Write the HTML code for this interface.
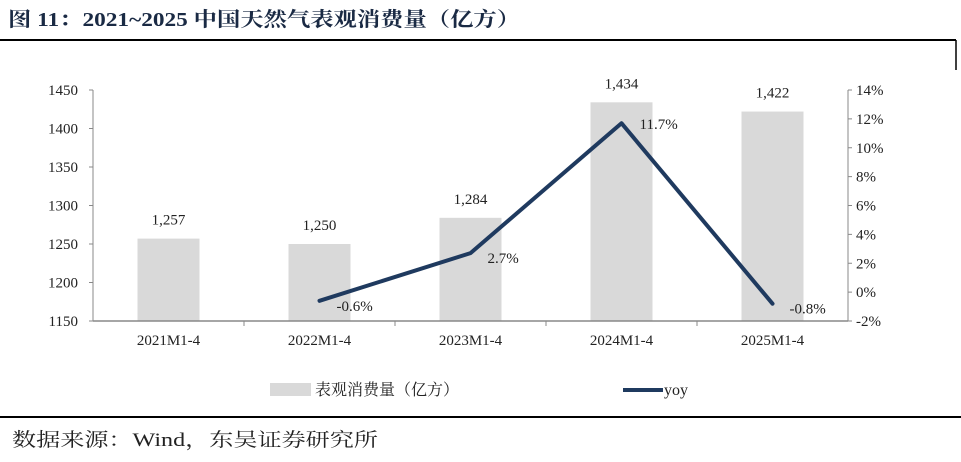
<!DOCTYPE html>
<html><head><meta charset="utf-8"><style>
body{margin:0;background:#fff;}
svg text{font-family:"Liberation Serif","Noto Serif CJK SC",serif;}
</style></head><body>
<svg width="961" height="457" viewBox="0 0 961 457" xmlns="http://www.w3.org/2000/svg">
<text x="8" y="26" font-size="20" font-weight="bold" fill="#1a2a44" textLength="512" lengthAdjust="spacingAndGlyphs">图 11：2021~2025 中国天然气表观消费量（亿方）</text>
<line x1="0" y1="40" x2="956" y2="40" stroke="#000" stroke-width="2"/>
<line x1="956" y1="40" x2="956" y2="70" stroke="#000" stroke-width="1.5"/>
<line x1="0" y1="417" x2="961" y2="417" stroke="#000" stroke-width="2"/>
<text x="12" y="446" font-size="19" fill="#222" textLength="366" lengthAdjust="spacingAndGlyphs">数据来源：Wind，东吴证券研究所</text>
<g id="plot"></g>
<g>
<rect x="270" y="383" width="41" height="13" fill="#d9d9d9"/>
<text x="315" y="395" font-size="16" fill="#222">表观消费量（亿方）</text>
<line x1="623" y1="390" x2="663" y2="390" stroke="#1f3a5f" stroke-width="4"/>
<text x="664" y="395" font-size="16" fill="#222">yoy</text>
</g>
</svg>
<script>
const categories=["2021M1-4","2022M1-4","2023M1-4","2024M1-4","2025M1-4"];
const volumes=[1257,1250,1284,1434,1422];
const yoy=[null,-0.6,2.7,11.7,-0.8];
const leftTicks=[1150,1200,1250,1300,1350,1400,1450];
const rightTicks=[-2,0,2,4,6,8,10,12,14];
const NS="http://www.w3.org/2000/svg";
const g=document.getElementById('plot');
const X0=93,X1=848,YT=90,YB=321;
const band=(X1-X0)/categories.length;
const xc=i=>X0+band*(i+0.5);
const yL=v=>YB-(v-1150)/(1450-1150)*(YB-YT);
const yR=v=>YB-(v+2)/16*(YB-YT);
function mk(t,a){const e=document.createElementNS(NS,t);for(const k in a)e.setAttribute(k,a[k]);g.appendChild(e);return e;}
function fmt(v){return v.toLocaleString('en-US');}
volumes.forEach((v,i)=>{
 const r=mk('rect',{x:xc(i)-31,y:yL(v),width:62,height:YB-yL(v),fill:'#d9d9d9'});
 
 
 const t=mk('text',{x:xc(i),y:yL(v)-14,'font-size':15,'text-anchor':'middle',fill:'#222'});
 t.textContent=fmt(v);
 
 
});
const ax=mk('line',{x1:X0,y1:YT,x2:X0,y2:YB,stroke:'#888'});


const ax2=mk('line',{x1:X1,y1:YT,x2:X1,y2:YB,stroke:'#888'});


const xa=mk('line',{x1:X0,y1:YB,x2:X1,y2:YB,stroke:'#888','stroke-width':1.5});


leftTicks.forEach(v=>{
 const tk=mk('line',{x1:X0-4,y1:yL(v),x2:X0,y2:yL(v),stroke:'#888'});
 
 
 const t=mk('text',{x:X0-15,y:yL(v)+5,'font-size':15,'text-anchor':'end',fill:'#222'});
 t.textContent=v;
 
 
});
rightTicks.forEach(v=>{
 const tk=mk('line',{x1:X1,y1:yR(v),x2:X1+4,y2:yR(v),stroke:'#888'});
 
 
 const t=mk('text',{x:X1+8,y:yR(v)+5,'font-size':15,fill:'#222'});
 t.textContent=v+'%';
 
 
});
categories.forEach((c,i)=>{
 if(i>0){const tk=mk('line',{x1:X0+band*i,y1:YB,x2:X0+band*i,y2:YB+5,stroke:'#888'});
 
 }
 const t=mk('text',{x:xc(i),y:YB+24,'font-size':15,'text-anchor':'middle',fill:'#222'});
 t.textContent=c;
 
 
});
let pts=[];yoy.forEach((v,i)=>{if(v!==null)pts.push(xc(i)+','+yR(v));});
const pl=mk('polyline',{points:pts.join(' '),fill:'none',stroke:'#1f3a5f','stroke-width':4,'stroke-linejoin':'round','stroke-linecap':'round'});


yoy.forEach((v,i)=>{if(v===null)return;
 const t=mk('text',{x:xc(i)+17,y:yR(v)+10,'font-size':15,fill:'#222'});
 if(i===3){t.setAttribute('x',xc(i)+18);t.setAttribute('y',yR(v)+6);}
 t.textContent=v.toFixed(1)+'%';
 
 
});
</script>
</body></html>
